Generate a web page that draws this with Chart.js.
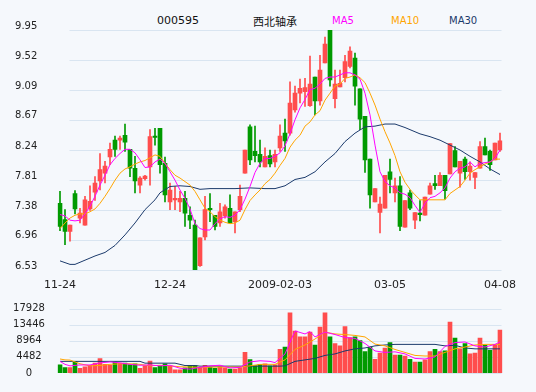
<!DOCTYPE html>
<html>
<head>
<meta charset="utf-8">
<script src="https://cdn.jsdelivr.net/npm/chart.js@4.4.1/dist/chart.umd.min.js"></script>
<style>
  html, body { margin: 0; padding: 0; }
  body { width: 536px; height: 392px; background: #f5f8fc; position: relative; overflow: hidden; font-family: "DejaVu Sans", sans-serif; }
  canvas { position: absolute; left: 0; }
  #kline { top: 0; }
  #vol { top: 290px; }
  .t { position: absolute; top: 14px; line-height: 14px; white-space: nowrap; color: #111; }
</style>
</head>
<body>
<div class="t" style="left:157px;font-size:11px">000595</div>
<div class="t" style="left:253px;font-size:11px;font-family:'Noto Sans CJK SC',sans-serif">西北轴承</div>
<div class="t" style="left:332px;font-size:10px;color:#ff00ff">MA5</div>
<div class="t" style="left:391px;font-size:10px;color:#ffa500">MA10</div>
<div class="t" style="left:449px;font-size:10px;color:#1b3a6b">MA30</div>
<canvas id="kline" width="536" height="300"></canvas>
<canvas id="vol" width="536" height="102"></canvas>
<script>
// tick labels
const xTickIndex = [0, 22, 44, 66, 88];
const xTickText = ['11-24', '12-24', '2009-02-03', '03-05', '04-08'];
const priceTicks = [6.53, 6.96, 7.38, 7.81, 8.24, 8.67, 9.09, 9.52, 9.95];
const volTicks = [0, 4482, 8964, 13446, 17928];

// daily candles
const opens = [7.48,7.25,7.08,7.62,7.27,7.17,7.40,7.64,7.80,7.91, 8.14,8.38,8.38,8.45,8.25,7.98,7.74,7.83,8.00,8.44,
  8.55,8.05,7.50,7.53,7.50,7.55,7.31,7.17,6.59,7.00, 7.41,7.31,7.20,7.30,7.41,7.22,7.39,7.91,8.57,8.22,
  8.18,8.00,8.16,8.07,8.27,8.48,8.48,8.81,9.05,9.07, 8.87,9.28,8.94,9.48,9.95,8.97,9.14,9.27,9.43,9.55,
  9.11,8.72,8.11,7.50,7.35,7.41,7.93,7.63,7.73,7.14, 7.63,7.24,7.34,7.31,7.61,7.76,7.73,7.88,7.90,8.23,
  7.91,8.11,7.93,7.85,7.98,8.29,8.22,8.10,8.24];
const highs = [7.65,7.39,7.17,7.66,7.41,7.58,7.73,7.86,8.19,8.08, 8.34,8.44,8.44,8.61,8.25,8.15,7.86,7.88,8.53,8.55,
  8.55,8.14,7.77,7.72,7.65,7.65,7.43,7.24,6.99,7.58, 7.62,7.31,7.48,7.46,7.60,7.36,7.74,8.24,8.60,8.58,
  8.38,8.27,8.24,8.24,8.60,8.68,9.21,9.15,9.25,9.26, 9.58,9.28,9.59,9.85,9.95,9.38,9.38,9.59,9.71,9.62,
  9.11,8.72,8.11,7.69,7.57,7.88,8.11,7.84,7.86,7.52, 7.67,7.35,7.52,7.57,7.77,7.88,7.92,7.88,8.33,8.29,
  8.08,8.14,8.07,7.92,8.36,8.41,8.24,8.34,8.48];
const lows = [7.09,6.89,6.94,7.33,7.20,7.17,7.38,7.52,7.67,7.77, 8.03,8.15,8.25,8.22,7.86,7.63,7.63,7.81,7.74,8.31,
  7.91,7.50,7.39,7.39,7.36,7.15,7.12,6.53,6.58,6.96, 7.22,7.10,7.15,7.27,7.20,7.06,7.36,7.91,8.03,8.07,
  8.00,8.00,8.00,8.00,8.22,8.22,8.45,8.78,8.91,8.86, 8.86,8.74,8.88,9.48,9.15,8.84,9.14,9.21,9.41,8.88,
  8.53,7.92,7.41,7.50,7.06,7.41,7.63,7.50,7.09,7.14, 7.39,7.12,7.23,7.31,7.61,7.68,7.73,7.54,7.90,8.00,
  7.71,7.82,7.81,7.69,7.98,8.17,7.95,8.10,8.22];
const closes = [7.15,7.08,7.17,7.40,7.34,7.53,7.51,7.77,7.96,8.01, 8.25,8.25,8.41,8.35,7.98,7.80,7.84,7.87,8.43,8.42,
  8.03,7.60,7.67,7.55,7.55,7.34,7.24,6.53,6.99,7.39, 7.39,7.15,7.36,7.43,7.20,7.36,7.58,8.24,8.10,8.16,
  8.07,8.15,8.04,8.18,8.44,8.37,8.91,9.05,9.12,9.13, 9.18,8.94,9.38,9.75,9.24,9.18,9.19,9.50,9.65,9.15,
  8.68,8.10,7.60,7.69,7.47,7.88,7.82,7.73,7.15,7.52, 7.41,7.35,7.32,7.57,7.73,7.73,7.88,7.66,8.33,8.00,
  8.08,7.93,8.01,7.92,8.29,8.17,8.03,8.34,8.37];
const volumes = [2241,1494,1494,3237,1328,1743,2158,2739,3984,2407, 2158,3071,2739,2739,2324,2573,1328,1992,3320,1494,
  1909,2573,1909,913,913,1411,2075,2075,1577,2158, 1577,1328,1660,1411,1079,1079,1494,5727,3735,2075,
  2407,2573,1992,2300,6557,7221,16764,11703,10043,10043, 11371,7802,12782,16764,10043,8217,7553,12948,9877,10043,
  9047,5976,7221,3818,5561,6972,8466,4980,4980,4731, 3818,3071,3071,3652,5976,6557,5976,6142,14193,9711,
  6723,8217,5312,5561,9711,7802,6308,7802,11952];

// moving averages as drawn
const ma5 = [7.32,7.30,7.24,7.23,7.24,7.33,7.44,7.58,7.74,7.88, 8.03,8.12,8.19,8.25,8.25,8.20,8.10,7.99,8.00,8.07,
  8.11,8.05,7.93,7.81,7.67,7.55,7.40,7.19,7.12,7.10, 7.10,7.19,7.26,7.29,7.28,7.31,7.39,7.54,7.72,7.92,
  8.05,8.12,8.12,8.15,8.20,8.30,8.47,8.67,8.84,8.96, 9.10,9.12,9.18,9.26,9.28,9.28,9.31,9.34,9.34,9.31,
  9.25,9.05,8.74,8.31,7.93,7.79,7.73,7.70,7.63,7.61, 7.56,7.45,7.35,7.48,7.56,7.58,7.63,7.70,7.84,7.93,
  7.98,8.00,8.07,8.00,8.05,8.06,8.07,8.12,8.24];
const ma10 = [7.12,7.20,7.27,7.31,7.33,7.33,7.36,7.40,7.48,7.58, 7.69,7.81,7.91,7.97,8.00,8.04,8.07,8.09,8.13,8.17,
  8.15,8.05,7.96,7.88,7.84,7.79,7.74,7.65,7.53,7.41, 7.36,7.29,7.24,7.21,7.19,7.20,7.24,7.39,7.52,7.60,
  7.67,7.76,7.82,7.91,8.02,8.12,8.28,8.38,8.45,8.58, 8.64,8.74,8.80,8.95,9.05,9.15,9.18,9.26,9.28,9.31,
  9.27,9.20,9.05,8.88,8.68,8.50,8.34,8.16,7.93,7.78, 7.68,7.60,7.53,7.53,7.53,7.53,7.53,7.53,7.62,7.67,
  7.72,7.81,7.91,7.96,8.00,8.04,8.07,8.11,8.11];
const ma30 = [[0,6.66],[2,6.61],[3,6.61],[5,6.67],[7,6.73],[9,6.78],[11,6.88],[13,7.03],[15,7.20],[17,7.39],
  [19,7.53],[20,7.63],[22,7.72],[24,7.73],[26,7.72],[28,7.68],[30,7.69],[32,7.69],[35,7.69],[38,7.70],
  [41,7.69],[43,7.69],[45,7.73],[47,7.82],[49,7.85],[51,7.93],[53,8.07],[55,8.19],[57,8.36],[59,8.48],
  [61,8.57],[63,8.58],[65,8.61],[67,8.61],[69,8.56],[71,8.50],[72,8.47],[74,8.43],[76,8.38],[78,8.31],
  [80,8.24],[82,8.15],[84,8.07],[86,7.97],[88,7.89]];
const volMa5 = [[0,3237],[1,2407],[2,1992],[4,2241],[6,2241],[8,2822],[10,3071],[12,2822],[14,2407],[16,2158],
  [18,2241],[20,1992],[22,2158],[24,1328],[26,1079],[28,1577],[30,1992],[32,2158],[34,1411],[36,1577],
  [38,3071],[40,3403],[42,3237],[43,2900],[45,5312],[47,11703],[49,10873],[50,11537],[51,10043],[53,11371],
  [55,10707],[57,9877],[59,9628],[61,8217],[63,6142],[65,5727],[67,5893],[69,5312],[71,4067],[73,3901],
  [75,4482],[77,7387],[79,8466],[81,8632],[83,7553],[85,7221],[87,7968],[88,8632]];
const volMa10 = [[0,3900],[1,3652],[2,3600],[4,2573],[6,1992],[8,2100],[10,2407],[12,2573],[14,2573],[16,2407],
  [18,1992],[20,2158],[22,1992],[24,1743],[26,1660],[28,1577],[32,1660],[36,1660],[38,1992],[40,2400],
  [42,2407],[43,2407],[45,3652],[47,6557],[49,7802],[51,9462],[53,11371],[55,10873],[57,10707],[59,10458],
  [61,10043],[63,8051],[65,7553],[67,6557],[69,5727],[71,4897],[73,4731],[75,4731],[77,5727],[79,6723],
  [81,7221],[83,7802],[85,7968],[87,7968],[88,7968]];
const volMa30 = [[0,3237],[16,3237],[17,2739],[23,2739],[24,2407],[25,2075],[27,2075],[28,1909],[44,1909],[45,2000],
  [47,3237],[49,3652],[51,4067],[53,4897],[55,5312],[57,6142],[59,6723],[61,6972],[63,7553],[65,7802],
  [67,7968],[75,7968],[77,7553],[79,7700],[81,6972],[83,6723],[88,6723]];

const days = opens.map((o, i) => String(i));
const upColor = '#ff4d4d';
const downColor = '#009a00';
const candleColors = closes.map((c, i) => c >= opens[i] ? upColor : downColor);

function toSeries(pairs) {
    const out = days.map(() => null);
    pairs.forEach(p => { out[p[0]] = p[1]; });
    return out;
}

function maLine(data, color) {
    return { type: 'line', data: data, borderColor: color, borderWidth: 1, pointRadius: 0,
             tension: 0, spanGaps: true, order: 0 };
}

// horizontal grid, starts a bit right of the axis like the original
const gridPlugin = {
    id: 'softGrid',
    beforeDatasetsDraw(chart) {
        const ctx = chart.ctx;
        const y = chart.scales.y;
        const area = chart.chartArea;
        ctx.save();
        ctx.strokeStyle = '#d9e5f1';
        ctx.lineWidth = 1;
        y.ticks.forEach(t => {
            const py = Math.round(y.getPixelForValue(t.value)) + 0.5;
            ctx.beginPath();
            ctx.moveTo(area.left + 12, py);
            ctx.lineTo(area.right - 1, py);
            ctx.stroke();
        });
        ctx.restore();
    }
};

const axisFont = { family: 'DejaVu Sans', size: 10 };

new Chart(document.getElementById('kline'), {
    type: 'bar',
    data: {
        labels: days,
        datasets: [
            maLine(ma5, '#ff00ff'),
            maLine(ma10, '#ffa500'),
            maLine(toSeries(ma30), '#1b3a6b'),
            { type: 'bar', data: opens.map((o, i) => [o, closes[i]]), backgroundColor: candleColors,
              barThickness: 4, minBarLength: 1, grouped: false, order: 1 },
            { type: 'bar', data: lows.map((l, i) => [l, highs[i]]), backgroundColor: candleColors,
              barThickness: 1, grouped: false, order: 2 }
        ]
    },
    options: {
        responsive: false,
        animation: false,
        devicePixelRatio: 1,
        layout: { padding: { top: 30, right: 33.5, bottom: 0, left: 0 } },
        plugins: { legend: { display: false }, tooltip: { enabled: false } },
        scales: {
            x: {
                offset: true,
                grid: { display: false, drawTicks: false },
                border: { display: false },
                afterBuildTicks: s => { s.ticks = xTickIndex.map(i => ({ value: i })); },
                afterFit: s => { s.height = 30; },
                ticks: {
                    autoSkip: false, maxRotation: 0, padding: 9, color: '#222',
                    font: { family: 'DejaVu Sans', size: 11 },
                    callback: v => xTickText[xTickIndex.indexOf(v)]
                }
            },
            y: {
                min: 6.53, max: 9.95,
                grid: { display: false, drawTicks: false },
                border: { display: false },
                afterBuildTicks: s => { s.ticks = priceTicks.map(v => ({ value: v })); },
                afterFit: s => { s.width = 57.5; },
                ticks: { padding: 20.2, labelOffset: -4, color: '#222', font: axisFont,
                         callback: v => v.toFixed(2) }
            }
        }
    },
    plugins: [gridPlugin]
});

new Chart(document.getElementById('vol'), {
    type: 'bar',
    data: {
        labels: days,
        datasets: [
            maLine(toSeries(volMa5), '#ff00ff'),
            maLine(toSeries(volMa10), '#ffa500'),
            maLine(toSeries(volMa30), '#1b3a6b'),
            { type: 'bar', data: volumes, backgroundColor: candleColors, barThickness: 4, order: 1 }
        ]
    },
    options: {
        responsive: false,
        animation: false,
        devicePixelRatio: 1,
        layout: { padding: { top: 11, right: 33.5, bottom: 19, left: 0 } },
        plugins: { legend: { display: false }, tooltip: { enabled: false } },
        scales: {
            x: { display: false, offset: true },
            y: {
                min: 0, max: 17928,
                grid: { display: false, drawTicks: false },
                border: { display: false },
                afterBuildTicks: s => { s.ticks = volTicks.map(v => ({ value: v })); },
                afterFit: s => { s.width = 57.5; },
                ticks: { padding: 12.6, crossAlign: 'center', color: '#222', font: axisFont,
                         callback: v => String(v) }
            }
        }
    },
    plugins: [gridPlugin]
});
</script>
</body>
</html>
